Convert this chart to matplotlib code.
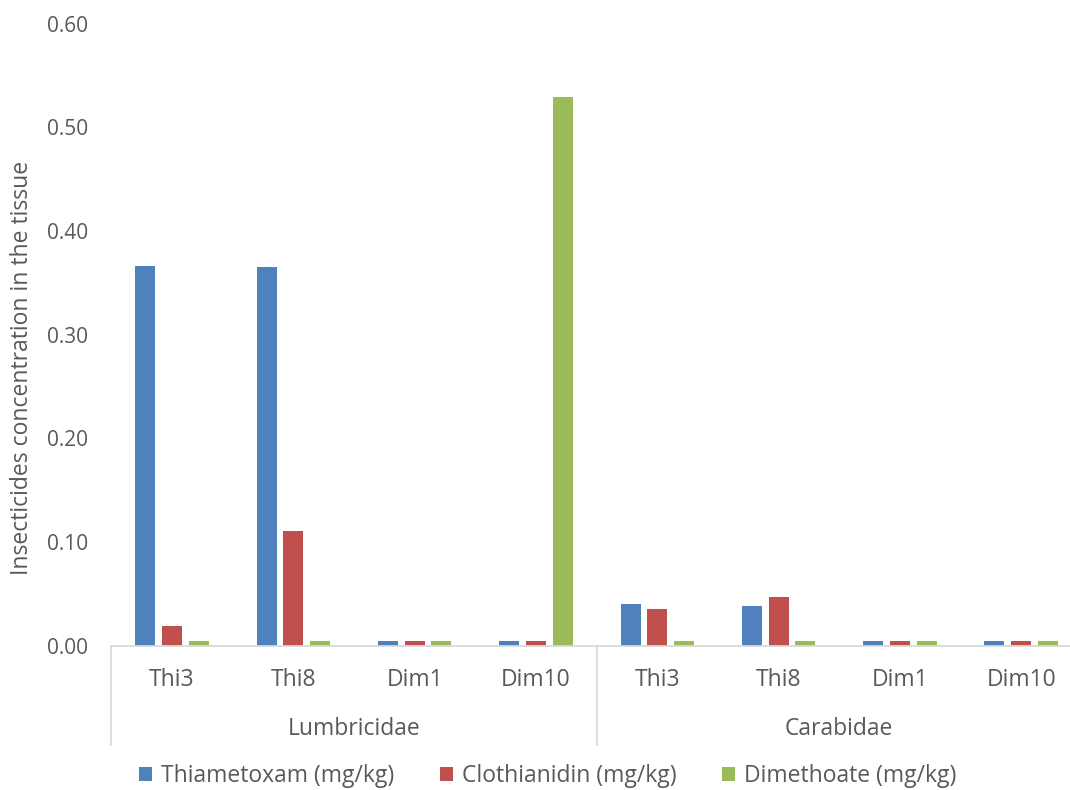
import numpy as np
import matplotlib.pyplot as plt
from matplotlib.patches import Patch

# categorías y valores
grupos = ['Lumbricidae', 'Carabidae']
tratamientos = ['Thi3', 'Thi8', 'Dim1', 'Dim10']
thiametoxam = [0.366, 0.365, 0.005, 0.005, 0.040, 0.038, 0.005, 0.005]
clothianidin = [0.019, 0.111, 0.005, 0.005, 0.035, 0.047, 0.005, 0.005]
dimethoate = [0.005, 0.005, 0.005, 0.529, 0.005, 0.005, 0.005, 0.005]
series = ['Thiametoxam (mg/kg)', 'Clothianidin (mg/kg)', 'Dimethoate (mg/kg)']
colores = ['#4F81BD', '#C0504D', '#9BBB59']
gris = '#595959'

plt.rcParams['font.family'] = ['Open Sans', 'DejaVu Sans']
plt.rcParams['font.size'] = 16.5

fig = plt.figure(figsize=(10.7, 7.9), dpi=100)
# ejes: x de 111 a 1082 px, y de 646 a 24 px
ax = fig.add_axes([111.4 / 1070, (790 - 645.7) / 790, (1081.8 - 111.4) / 1070, 622.1 / 790])

x = np.arange(len(grupos) * len(tratamientos))
ancho = 0.165
desp = 0.22
for i, valores in enumerate([thiametoxam, clothianidin, dimethoate]):
    ax.bar(x + (i - 1) * desp, valores, width=ancho, color=colores[i], label=series[i])

ax.set_xlim(-0.5, len(x) - 0.5)
ax.set_ylim(0, 0.6)
ax.set_yticks(np.arange(0, 0.61, 0.1))
ax.set_yticklabels([f'{v:.2f}' for v in np.arange(0, 0.61, 0.1)], color=gris, fontsize=15)
ax.tick_params(axis='y', length=0, pad=16.5)
ax.set_xticks([])

for lado in ['top', 'right', 'left']:
    ax.spines[lado].set_visible(False)
ax.spines['bottom'].set_color('#D9D9D9')
ax.spines['bottom'].set_linewidth(1.3)

# etiquetas de categorías de dos niveles
trans = ax.get_xaxis_transform()
for k, xi in enumerate(x):
    ax.text(xi, -0.055, tratamientos[k % len(tratamientos)], transform=trans,
            ha='center', va='center', color=gris, clip_on=False)
for g, nombre in enumerate(grupos):
    centro = g * len(tratamientos) + (len(tratamientos) - 1) / 2
    ax.text(centro, -0.134, nombre, transform=trans, ha='center', va='center',
            color=gris, clip_on=False)
for sep in [-0.5, 3.5, 7.5]:
    ax.plot([sep, sep], [0, -0.16], transform=trans, color='#D9D9D9',
            lw=1.3, clip_on=False)

fig.text(22 / 1070, (790 - 368) / 790, 'Insecticides concentration in the tissue',
         rotation=90, ha='center', va='center', color=gris)

manijas = [Patch(facecolor=c) for c in colores]
leg = fig.legend(manijas, series, loc='center', bbox_to_anchor=(548 / 1070, (790 - 776) / 790),
                 ncol=3, frameon=False, handlelength=0.55, handleheight=0.55,
                 handletextpad=0.4, columnspacing=2.0, borderaxespad=0)
for t in leg.get_texts():
    t.set_color(gris)

plt.savefig('out.png', dpi=100)
